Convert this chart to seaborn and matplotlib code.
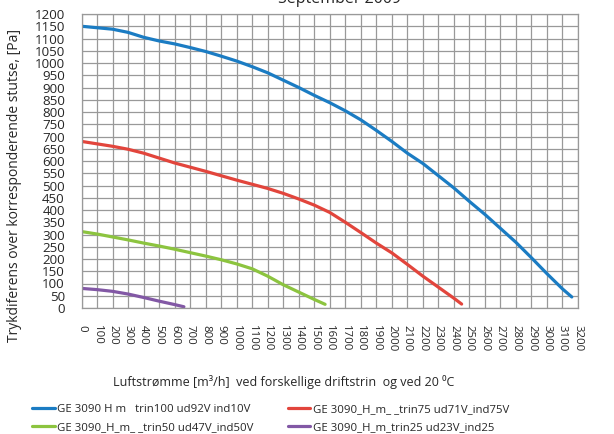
import numpy as np
import pandas as pd
import matplotlib
matplotlib.use("Agg")
import matplotlib.pyplot as plt
import seaborn as sns

# Fan curves: airflow [m3/h] vs. pressure difference [Pa] per speed step
flow_100 = [0, 200, 300, 400, 500, 600, 700, 800, 900, 1000, 1100, 1200, 1300, 1400,
            1500, 1600, 1700, 1800, 1900, 2000, 2100, 2200, 2300, 2400, 2500, 2600,
            2700, 2800, 2900, 3000, 3100, 3160]
pres_100 = [1150, 1138, 1125, 1105, 1090, 1078, 1063, 1047, 1028, 1008, 985, 960, 930, 900,
            868, 838, 805, 768, 725, 680, 632, 590, 540, 490, 435, 382,
            325, 268, 205, 140, 78, 45]

flow_75 = [0, 100, 200, 300, 400, 500, 600, 700, 800, 900, 1000, 1100, 1200, 1300, 1400,
           1500, 1600, 1700, 1800, 1900, 2000, 2100, 2200, 2300, 2400, 2450]
pres_75 = [680, 670, 660, 648, 632, 612, 592, 575, 558, 540, 522, 505, 488, 468, 445,
           420, 390, 350, 308, 265, 225, 178, 130, 85, 40, 16]

flow_50 = [0, 100, 200, 300, 400, 500, 600, 700, 800, 900, 1000, 1100, 1200, 1300, 1400,
           1500, 1570]
pres_50 = [312, 302, 290, 278, 265, 253, 240, 226, 212, 197, 180, 160, 130, 95, 65,
           35, 15]

flow_25 = [0, 100, 200, 300, 400, 500, 600, 660]
pres_25 = [80, 75, 68, 57, 43, 28, 14, 5]

series_labels = [
    "GE 3090 H m   trin100 ud92V ind10V",
    "GE 3090_H_m_ _trin75 ud71V_ind75V",
    "GE 3090_H_m_ _trin50 ud47V_ind50V",
    "GE 3090_H_m_trin25 ud23V_ind25",
]
series_colors = ["#1b7cc3", "#e2453c", "#8cc43f", "#8258a5"]

x_ticks = list(range(0, 3300, 100))
y_ticks = list(range(0, 1250, 50))

frames = []
for lab, fx, fy in zip(series_labels,
                       [flow_100, flow_75, flow_50, flow_25],
                       [pres_100, pres_75, pres_50, pres_25]):
    frames.append(pd.DataFrame({"flow": fx, "pressure": fy, "serie": lab}))
df = pd.concat(frames, ignore_index=True)

sns.set_style("whitegrid")
plt.rcParams["font.family"] = ["Open Sans", "DejaVu Sans"]

fig = plt.figure(figsize=(6.14, 4.34), dpi=100)
ax = fig.add_axes([81.5 / 614, 1 - 308 / 434, (578 - 81.5) / 614, (308 - 14) / 434])

sns.lineplot(data=df, x="flow", y="pressure", hue="serie", hue_order=series_labels,
             palette=series_colors, linewidth=2.3, sort=False, ax=ax, legend=False)

ax.set_xlim(0, 3200)
ax.set_ylim(0, 1200)
ax.set_xticks(x_ticks)
ax.set_yticks(y_ticks)
ax.set_xticklabels([str(v) for v in x_ticks], rotation=270, fontsize=8.2,
                   va="top", ha="center", rotation_mode="default")
ax.set_yticklabels([str(v) for v in y_ticks], fontsize=9.6)
ax.tick_params(axis="x", pad=12, length=0)
ax.tick_params(axis="y", pad=12, length=0)
ax.grid(True, color="#999999", linewidth=0.9)
for sp in ax.spines.values():
    sp.set_color("#999999")
    sp.set_linewidth(0.9)
ax.set_xlabel("")
ax.set_ylabel("")

fig.text(15 / 614, 1 - 185 / 434, "Trykdiferens over korresponderende stutse, [Pa]",
         rotation=90, ha="center", va="center", fontsize=10)
fig.text(283.5 / 614, 1 - 382 / 434,
         "Luftstrømme [m³/h]  ved forskellige driftstrin  og ved 20 ⁰C",
         ha="center", va="center", fontsize=9)
fig.text(340 / 614, 1 - 3 / 434, "September 2009", ha="center", va="baseline",
         fontsize=11.5)

# Legend: two columns, row-major order blue/red then green/purple
handles = [plt.Line2D([], [], color=c, linewidth=2.3) for c in series_colors]
order = [0, 2, 1, 3]
fig.legend([handles[i] for i in order], [series_labels[i] for i in order],
           ncol=2, loc="center left", bbox_to_anchor=(32 / 614, 1 - 418.5 / 434),
           frameon=False, fontsize=8.2, handlelength=2.0, handletextpad=0.2,
           columnspacing=3.0, labelspacing=0.55, borderpad=0, borderaxespad=0)

fig.savefig("out.png", dpi=100)
